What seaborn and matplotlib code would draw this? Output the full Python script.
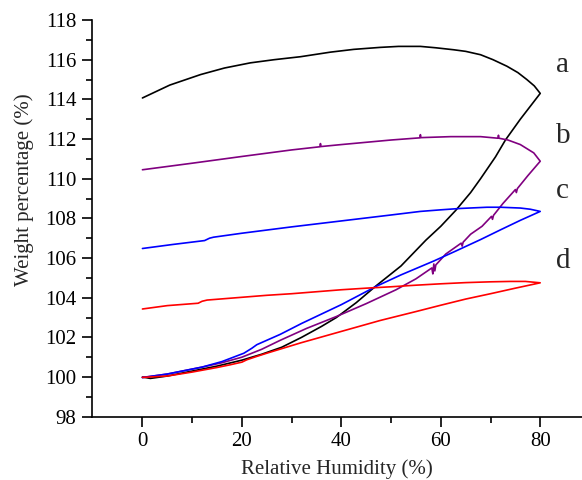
import numpy as np
import pandas as pd
import matplotlib
matplotlib.use("Agg")
import matplotlib.pyplot as plt
import seaborn as sns

# ---- data ----
# a (black)
a_sorp_x = [0, 1.6, 5, 10, 15, 20, 24, 28, 32, 36, 39, 43, 47, 52, 57, 60, 63, 66, 68, 71, 73, 76, 78, 80]
a_sorp_y = [100.0, 99.93, 100.05, 100.3, 100.55, 100.85, 101.15, 101.5, 102.0, 102.55, 103.0, 103.75, 104.6, 105.6, 106.9, 107.6, 108.4, 109.3, 110.0, 111.1, 111.95, 113.0, 113.65, 114.3]
a_desorp_x = [80, 78.8, 77.3, 75.5, 73.3, 70.5, 68, 65, 62.6, 59, 55.9, 51.5, 47.8, 42.5, 37.8, 31.8, 26.5, 21.7, 16.5, 11.7, 5.5, 0]
a_desorp_y = [114.3, 114.68, 115.0, 115.35, 115.67, 116.0, 116.25, 116.42, 116.5, 116.6, 116.67, 116.67, 116.62, 116.52, 116.38, 116.15, 116.0, 115.84, 115.58, 115.25, 114.72, 114.07]

# b (purple)
b_sorp_x = [0, 5, 12, 16, 20, 24, 27.7, 33, 39, 45, 51, 55, 58.2, 58.4, 58.6, 58.8, 59.0, 61, 64.1, 64.3, 64.5, 66, 68.3, 70.2, 70.4, 70.6, 72.5, 75.0, 75.2, 75.4, 77.5, 80]
b_sorp_y = [99.98, 100.15, 100.5, 100.72, 101.0, 101.4, 101.85, 102.45, 103.05, 103.7, 104.4, 104.95, 105.5, 105.2, 105.7, 105.35, 105.65, 106.2, 106.75, 106.6, 106.8, 107.2, 107.6, 108.1, 107.95, 108.15, 108.75, 109.45, 109.3, 109.5, 110.15, 110.88]
b_desorp_x = [80, 78.7, 76, 73.5, 71.7, 71.6, 71.5, 68, 62, 56.0, 55.9, 55.8, 50, 40, 35.9, 35.8, 35.7, 30, 20, 10, 0]
b_desorp_y = [110.88, 111.3, 111.72, 111.95, 112.04, 112.19, 112.04, 112.12, 112.12, 112.07, 112.22, 112.06, 111.95, 111.72, 111.62, 111.77, 111.61, 111.45, 111.12, 110.78, 110.45]

# c (blue)
c_sorp_x = [0, 5, 12, 16, 20.4, 22, 23, 27.7, 32, 40, 47, 52, 58.6, 63, 68, 72, 76, 80]
c_sorp_y = [99.97, 100.15, 100.5, 100.78, 101.2, 101.45, 101.63, 102.15, 102.7, 103.65, 104.57, 105.15, 105.85, 106.35, 106.93, 107.42, 107.9, 108.35]
c_desorp_x = [80, 78, 76, 72, 69.3, 64, 60, 55.9, 50, 45, 40, 35, 30, 25, 20, 14.3, 13.5, 12.5, 6, 0]
c_desorp_y = [108.35, 108.46, 108.52, 108.56, 108.56, 108.5, 108.43, 108.35, 108.17, 108.02, 107.87, 107.72, 107.57, 107.41, 107.25, 107.05, 107.0, 106.88, 106.68, 106.48]

# d (red)
d_sorp_x = [0, 5, 10, 15, 17.7, 20, 21, 23, 25, 31.8, 40, 47.8, 55, 60, 65, 70, 75, 80]
d_sorp_y = [99.98, 100.05, 100.25, 100.48, 100.62, 100.75, 100.87, 101.04, 101.2, 101.72, 102.3, 102.85, 103.3, 103.62, 103.93, 104.2, 104.48, 104.75]
d_desorp_x = [80, 77, 74, 70, 65, 60, 55, 50, 45, 40, 35, 30, 25, 20, 13, 12, 11.2, 5, 0]
d_desorp_y = [104.75, 104.82, 104.82, 104.8, 104.76, 104.7, 104.63, 104.55, 104.48, 104.4, 104.3, 104.2, 104.12, 104.02, 103.88, 103.82, 103.72, 103.6, 103.43]

labels = ["a", "b", "c", "d"]
colors = ["#000000", "#800080", "#0000FF", "#FF0000"]
label_y = [115.75, 112.13, 109.36, 105.83]

x_ticks = [0, 20, 40, 60, 80]
y_ticks = [98, 100, 102, 104, 106, 108, 110, 112, 114, 116, 118]

# ---- build loops ----
loops = [
    (a_sorp_x + a_desorp_x, a_sorp_y + a_desorp_y),
    (b_sorp_x + b_desorp_x, b_sorp_y + b_desorp_y),
    (c_sorp_x + c_desorp_x, c_sorp_y + c_desorp_y),
    (d_sorp_x + d_desorp_x, d_sorp_y + d_desorp_y),
]

sns.set_style("ticks")
plt.rcParams["font.family"] = ["Liberation Serif", "DejaVu Serif"]

fig = plt.figure(figsize=(5.82, 4.8), dpi=100)
ax = fig.add_axes([0.1576, 0.1319, 0.8424, 0.8264])

for (xs, ys), lab, col in zip(loops, labels, colors):
    df = pd.DataFrame({"rh": xs, "w": ys})
    sns.lineplot(data=df, x="rh", y="w", sort=False, estimator=None,
                 color=col, linewidth=1.2, ax=ax)

for lab, ly in zip(labels, label_y):
    ax.text(83.2, ly, lab, fontsize=21, ha="left", va="center", clip_on=False)

ax.set_xlim(-10.2, 88.4)
ax.set_ylim(98, 118)
ax.set_xticks(x_ticks)
ax.set_yticks(y_ticks)
ax.set_xticks(np.arange(10, 88, 20), minor=True)
ax.set_yticks(np.arange(99, 118, 2), minor=True)
ax.tick_params(axis="both", which="major", direction="out", length=7, width=1.2,
               labelsize=15, color="black", labelcolor="black", pad=4)
ax.tick_params(axis="both", which="minor", direction="out", length=4, width=1.2, color="black")
for s in ["top", "right"]:
    ax.spines[s].set_visible(False)
for s in ["left", "bottom"]:
    ax.spines[s].set_linewidth(1.2)
    ax.spines[s].set_color("black")

ax.set_xlabel("Relative Humidity (%)", fontsize=15)
ax.set_ylabel("Weight percentage (%)", fontsize=15)
ax.xaxis.set_label_coords(0.5, -0.108)
ax.yaxis.set_label_coords(-0.118, 0.572)

fig.savefig("out.png", dpi=100)
